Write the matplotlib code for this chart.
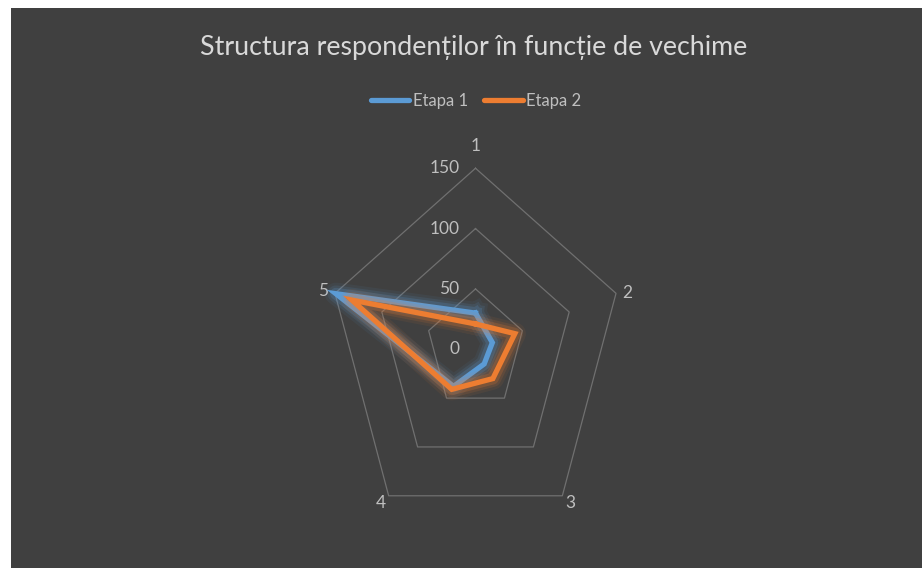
import numpy as np
import matplotlib
matplotlib.use("Agg")
import matplotlib.pyplot as plt
from matplotlib.patches import Rectangle
from matplotlib.lines import Line2D

plt.rcParams['font.family'] = ['Lato', 'DejaVu Sans']

# data
categories = ['1', '2', '3', '4', '5']
etapa1 = [30, 18, 15, 38, 149]
etapa2 = [21, 42, 30, 41, 132]
ring_values = [0, 50, 100, 150]
series_names = ['Etapa 1', 'Etapa 2']
series_colors = ['#5b9bd5', '#ed7d31']

W, H = 922, 568
cx, cy = 475.5, 349.3      # centre of radar in pixels (from top)
sx, sy = 0.985, 1.207      # pixels per unit (picture is squeezed horizontally)

fig = plt.figure(figsize=(W / 100, H / 100), dpi=100)
fig.patch.set_facecolor('white')
fig.patches.append(Rectangle((11 / W, 0), 1 - 11 / W, 1 - 8 / H,
                             transform=fig.transFigure, facecolor='#404040',
                             edgecolor='none', zorder=-10))

ax = fig.add_axes([0, 0, 1, 1])
ax.set_facecolor('none')
ax.set_xlim(-cx / sx, (W - cx) / sx)
ax.set_ylim(-(H - cy) / sy, cy / sy)
ax.axis('off')

n = len(categories)
ang = np.pi / 2 - np.arange(n) * 2 * np.pi / n


def xy(vals):
    v = np.asarray(vals, dtype=float)
    x = v * np.cos(ang)
    y = v * np.sin(ang)
    return np.append(x, x[0]), np.append(y, y[0])


# pentagon grid
for r in ring_values[1:]:
    gx, gy = xy([r] * n)
    ax.plot(gx, gy, color='#707070', lw=0.9, zorder=1)

# ring labels
for r in ring_values:
    ax.annotate(str(r), (0, r), xytext=(-16, 0), textcoords='offset pixels',
                ha='right', va='center', color='#bfbfbf', fontsize=12.5)

# category labels
top = ring_values[-1]
offsets = [(0, 22), (11, 0), (8, -7), (-8, -7), (-12, 2)]
for i, lab in enumerate(categories):
    ax.annotate(lab, (top * np.cos(ang[i]), top * np.sin(ang[i])),
                xytext=offsets[i], textcoords='offset pixels',
                ha='center', va='center', color='#bfbfbf', fontsize=12.5)

# series with soft glow
for vals, col, z in zip([etapa1, etapa2], series_colors, [3, 5]):
    px, py = xy(vals)
    for w, a in [(16, 0.07), (12, 0.12), (8.5, 0.2)]:
        ax.plot(px, py, color=col, lw=w, alpha=a, solid_joinstyle='round', zorder=z)
    ax.plot(px, py, color=col, lw=3.8, solid_joinstyle='miter', zorder=z + 1)

fig.text(474 / W, 1 - 47 / H, 'Structura respondenților în funcție de vechime',
         ha='center', va='center', color='#d9d9d9', fontsize=19.3)

handles = [Line2D([], [], color=c, lw=3.8, solid_capstyle='round') for c in series_colors]
fig.legend(handles, series_names, loc='center', bbox_to_anchor=(476 / W, 1 - 101 / H),
           ncol=2, frameon=False, fontsize=12, labelcolor='#bfbfbf',
           handlelength=2.3, handletextpad=0.2, columnspacing=1.0)

fig.savefig('out.png', dpi=100, facecolor=fig.get_facecolor())
